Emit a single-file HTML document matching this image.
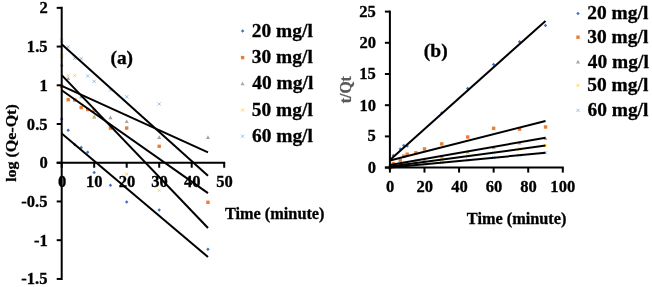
<!DOCTYPE html>
<html><head><meta charset="utf-8"><style>
html,body{margin:0;padding:0;background:#fff;width:652px;height:287px;overflow:hidden}
svg{display:block}
</style></head><body>
<svg width="652" height="287" viewBox="0 0 652 287">
<rect width="652" height="287" fill="#fff"/>
<path d="M61.70 117.25L63.45 119.00L61.70 120.75L59.95 119.00Z" fill="#4472C4"/>
<path d="M68.20 128.55L69.95 130.30L68.20 132.05L66.45 130.30Z" fill="#4472C4"/>
<path d="M74.70 142.65L76.45 144.40L74.70 146.15L72.95 144.40Z" fill="#4472C4"/>
<path d="M81.20 145.65L82.95 147.40L81.20 149.15L79.45 147.40Z" fill="#4472C4"/>
<path d="M87.70 150.55L89.45 152.30L87.70 154.05L85.95 152.30Z" fill="#4472C4"/>
<path d="M94.20 170.85L95.95 172.60L94.20 174.35L92.45 172.60Z" fill="#4472C4"/>
<path d="M110.45 183.55L112.20 185.30L110.45 187.05L108.70 185.30Z" fill="#4472C4"/>
<path d="M126.70 200.25L128.45 202.00L126.70 203.75L124.95 202.00Z" fill="#4472C4"/>
<path d="M159.20 208.25L160.95 210.00L159.20 211.75L157.45 210.00Z" fill="#4472C4"/>
<path d="M207.95 247.45L209.70 249.20L207.95 250.95L206.20 249.20Z" fill="#4472C4"/>
<rect x="60.00" y="84.50" width="3.40" height="3.40" fill="#ED7D31"/>
<rect x="66.50" y="98.00" width="3.40" height="3.40" fill="#ED7D31"/>
<rect x="73.00" y="98.30" width="3.40" height="3.40" fill="#ED7D31"/>
<rect x="79.50" y="105.80" width="3.40" height="3.40" fill="#ED7D31"/>
<rect x="86.00" y="107.80" width="3.40" height="3.40" fill="#ED7D31"/>
<rect x="92.50" y="108.60" width="3.40" height="3.40" fill="#ED7D31"/>
<rect x="108.75" y="126.40" width="3.40" height="3.40" fill="#ED7D31"/>
<rect x="125.00" y="126.40" width="3.40" height="3.40" fill="#ED7D31"/>
<rect x="157.50" y="144.60" width="3.40" height="3.40" fill="#ED7D31"/>
<rect x="206.25" y="200.60" width="3.40" height="3.40" fill="#ED7D31"/>
<path d="M61.70 62.70L63.70 66.30L59.70 66.30Z" fill="#A5A5A5"/>
<path d="M68.20 76.40L70.20 80.00L66.20 80.00Z" fill="#A5A5A5"/>
<path d="M81.20 94.70L83.20 98.30L79.20 98.30Z" fill="#A5A5A5"/>
<path d="M94.20 114.80L96.20 118.40L92.20 118.40Z" fill="#A5A5A5"/>
<path d="M110.45 115.60L112.45 119.20L108.45 119.20Z" fill="#A5A5A5"/>
<path d="M126.70 119.50L128.70 123.10L124.70 123.10Z" fill="#A5A5A5"/>
<path d="M159.20 135.30L161.20 138.90L157.20 138.90Z" fill="#A5A5A5"/>
<path d="M207.95 135.30L209.95 138.90L205.95 138.90Z" fill="#A5A5A5"/>
<path d="M60.10 54.40L63.30 57.60M63.30 54.40L60.10 57.60" stroke="#FFC000" stroke-width="0.8" fill="none" opacity="0.75"/>
<path d="M66.60 73.90L69.80 77.10M69.80 73.90L66.60 77.10" stroke="#FFC000" stroke-width="0.8" fill="none" opacity="0.75"/>
<path d="M73.10 73.90L76.30 77.10M76.30 73.90L73.10 77.10" stroke="#FFC000" stroke-width="0.8" fill="none" opacity="0.75"/>
<path d="M92.60 115.70L95.80 118.90M95.80 115.70L92.60 118.90" stroke="#FFC000" stroke-width="0.8" fill="none" opacity="0.75"/>
<path d="M125.10 172.50L128.30 175.70M128.30 172.50L125.10 175.70" stroke="#FFC000" stroke-width="0.8" fill="none" opacity="0.75"/>
<path d="M157.60 188.90L160.80 192.10M160.80 188.90L157.60 192.10" stroke="#FFC000" stroke-width="0.8" fill="none" opacity="0.75"/>
<path d="M60.10 38.70L63.30 41.90M63.30 38.70L60.10 41.90" stroke="#5B9BD5" stroke-width="0.8" fill="none" opacity="0.75"/>
<path d="M66.60 45.20L69.80 48.40M69.80 45.20L66.60 48.40" stroke="#5B9BD5" stroke-width="0.8" fill="none" opacity="0.75"/>
<path d="M73.10 56.70L76.30 59.90M76.30 56.70L73.10 59.90" stroke="#5B9BD5" stroke-width="0.8" fill="none" opacity="0.75"/>
<path d="M79.60 57.00L82.80 60.20M82.80 57.00L79.60 60.20" stroke="#5B9BD5" stroke-width="0.8" fill="none" opacity="0.75"/>
<path d="M86.10 74.40L89.30 77.60M89.30 74.40L86.10 77.60" stroke="#5B9BD5" stroke-width="0.8" fill="none" opacity="0.75"/>
<path d="M92.60 79.80L95.80 83.00M95.80 79.80L92.60 83.00" stroke="#5B9BD5" stroke-width="0.8" fill="none" opacity="0.75"/>
<path d="M108.85 88.30L112.05 91.50M112.05 88.30L108.85 91.50" stroke="#5B9BD5" stroke-width="0.8" fill="none" opacity="0.75"/>
<path d="M125.10 95.20L128.30 98.40M128.30 95.20L125.10 98.40" stroke="#5B9BD5" stroke-width="0.8" fill="none" opacity="0.75"/>
<path d="M157.60 102.40L160.80 105.60M160.80 102.40L157.60 105.60" stroke="#5B9BD5" stroke-width="0.8" fill="none" opacity="0.75"/>
<line x1="61.7" y1="44.2" x2="208" y2="175.8" stroke="#000" stroke-width="2.0"/>
<line x1="61.7" y1="75.1" x2="208" y2="228" stroke="#000" stroke-width="2.0"/>
<line x1="61.7" y1="85.8" x2="208" y2="152.4" stroke="#000" stroke-width="2.0"/>
<line x1="61.7" y1="90.2" x2="208" y2="193.1" stroke="#000" stroke-width="2.0"/>
<line x1="61.7" y1="133.4" x2="208" y2="257" stroke="#000" stroke-width="2.0"/>
<line x1="61.7" y1="6.85" x2="61.7" y2="279.93" stroke="#000" stroke-width="2.0"/>
<line x1="56.7" y1="7.85" x2="61.7" y2="7.85" stroke="#000" stroke-width="2.0"/>
<text transform="translate(47.00 13.00) scale(1.0550 1)" x="-7.14" y="0" font-family="Liberation Serif, Times New Roman, serif" font-weight="bold" font-size="15.7" fill="#000" stroke="#000" stroke-width="0.284">2</text>
<line x1="56.7" y1="46.57" x2="61.7" y2="46.57" stroke="#000" stroke-width="2.0"/>
<text transform="translate(47.00 52.00) scale(1.0550 1)" x="-19.08" y="0" font-family="Liberation Serif, Times New Roman, serif" font-weight="bold" font-size="15.7" fill="#000" stroke="#000" stroke-width="0.284">1.5</text>
<line x1="56.7" y1="85.30" x2="61.7" y2="85.30" stroke="#000" stroke-width="2.0"/>
<text transform="translate(47.00 91.00) scale(1.0550 1)" x="-7.06" y="0" font-family="Liberation Serif, Times New Roman, serif" font-weight="bold" font-size="15.7" fill="#000" stroke="#000" stroke-width="0.284">1</text>
<line x1="56.7" y1="124.03" x2="61.7" y2="124.03" stroke="#000" stroke-width="2.0"/>
<text transform="translate(47.00 130.00) scale(1.0550 1)" x="-19.08" y="0" font-family="Liberation Serif, Times New Roman, serif" font-weight="bold" font-size="15.7" fill="#000" stroke="#000" stroke-width="0.284">0.5</text>
<line x1="56.7" y1="162.75" x2="61.7" y2="162.75" stroke="#000" stroke-width="2.0"/>
<text transform="translate(47.00 168.00) scale(1.0550 1)" x="-7.22" y="0" font-family="Liberation Serif, Times New Roman, serif" font-weight="bold" font-size="15.7" fill="#000" stroke="#000" stroke-width="0.284">0</text>
<line x1="56.7" y1="201.47" x2="61.7" y2="201.47" stroke="#000" stroke-width="2.0"/>
<text transform="translate(47.00 207.00) scale(1.0550 1)" x="-24.34" y="0" font-family="Liberation Serif, Times New Roman, serif" font-weight="bold" font-size="15.7" fill="#000" stroke="#000" stroke-width="0.284">-0.5</text>
<line x1="56.7" y1="240.20" x2="61.7" y2="240.20" stroke="#000" stroke-width="2.0"/>
<text transform="translate(47.00 246.00) scale(1.0550 1)" x="-12.32" y="0" font-family="Liberation Serif, Times New Roman, serif" font-weight="bold" font-size="15.7" fill="#000" stroke="#000" stroke-width="0.284">-1</text>
<line x1="56.7" y1="278.93" x2="61.7" y2="278.93" stroke="#000" stroke-width="2.0"/>
<text transform="translate(47.00 284.00) scale(1.0550 1)" x="-24.34" y="0" font-family="Liberation Serif, Times New Roman, serif" font-weight="bold" font-size="15.7" fill="#000" stroke="#000" stroke-width="0.284">-1.5</text>
<line x1="56.7" y1="162.75" x2="225.20" y2="162.75" stroke="#000" stroke-width="2.0"/>
<line x1="61.70" y1="162.75" x2="61.70" y2="167.75" stroke="#000" stroke-width="2.0"/>
<text transform="translate(62.00 187.00) scale(1.0550 1)" x="-3.92" y="0" font-family="Liberation Serif, Times New Roman, serif" font-weight="bold" font-size="15.7" fill="#000" stroke="#000" stroke-width="0.284">0</text>
<line x1="94.20" y1="162.75" x2="94.20" y2="167.75" stroke="#000" stroke-width="2.0"/>
<text transform="translate(94.50 187.00) scale(1.0550 1)" x="-8.16" y="0" font-family="Liberation Serif, Times New Roman, serif" font-weight="bold" font-size="15.7" fill="#000" stroke="#000" stroke-width="0.284">10</text>
<line x1="126.70" y1="162.75" x2="126.70" y2="167.75" stroke="#000" stroke-width="2.0"/>
<text transform="translate(127.00 187.00) scale(1.0550 1)" x="-7.85" y="0" font-family="Liberation Serif, Times New Roman, serif" font-weight="bold" font-size="15.7" fill="#000" stroke="#000" stroke-width="0.284">20</text>
<line x1="159.20" y1="162.75" x2="159.20" y2="167.75" stroke="#000" stroke-width="2.0"/>
<text transform="translate(159.50 187.00) scale(1.0550 1)" x="-7.85" y="0" font-family="Liberation Serif, Times New Roman, serif" font-weight="bold" font-size="15.7" fill="#000" stroke="#000" stroke-width="0.284">30</text>
<line x1="191.70" y1="162.75" x2="191.70" y2="167.75" stroke="#000" stroke-width="2.0"/>
<text transform="translate(192.00 187.00) scale(1.0550 1)" x="-7.65" y="0" font-family="Liberation Serif, Times New Roman, serif" font-weight="bold" font-size="15.7" fill="#000" stroke="#000" stroke-width="0.284">40</text>
<line x1="224.20" y1="162.75" x2="224.20" y2="167.75" stroke="#000" stroke-width="2.0"/>
<text transform="translate(224.50 187.00) scale(1.0550 1)" x="-7.85" y="0" font-family="Liberation Serif, Times New Roman, serif" font-weight="bold" font-size="15.7" fill="#000" stroke="#000" stroke-width="0.284">50</text>
<text transform="translate(111.30 64.00) scale(1.0200 1)" x="-0.85" y="0" font-family="Liberation Serif, Times New Roman, serif" font-weight="bold" font-size="19" fill="#000" stroke="#000" stroke-width="0.294">(a)</text>
<text transform="translate(225.20 219.00) scale(0.9630 1)" x="-0.25" y="0" font-family="Liberation Serif, Times New Roman, serif" font-weight="bold" font-size="16.9" fill="#000" stroke="#000" stroke-width="0.312">Time (minute)</text>
<text transform="translate(15.70 143.20) rotate(-90) scale(1.0450 1)" x="-36.99" y="0" font-family="Liberation Serif, Times New Roman, serif" font-weight="bold" font-size="15.3" fill="#000" stroke="#000" stroke-width="0.287">log (Qe-Qt)</text>
<path d="M242.60 29.25L244.35 31.00L242.60 32.75L240.85 31.00Z" fill="#4472C4"/>
<text transform="translate(252.60 36.70) scale(1.0450 1)" x="-0.74" y="0" font-family="Liberation Serif, Times New Roman, serif" font-weight="bold" font-size="18.6" fill="#000" stroke="#000" stroke-width="0.287">20 mg/l</text>
<rect x="240.90" y="55.90" width="3.40" height="3.40" fill="#ED7D31"/>
<text transform="translate(252.60 63.30) scale(1.0450 1)" x="-0.74" y="0" font-family="Liberation Serif, Times New Roman, serif" font-weight="bold" font-size="18.6" fill="#000" stroke="#000" stroke-width="0.287">30 mg/l</text>
<path d="M242.60 81.70L244.60 85.30L240.60 85.30Z" fill="#A5A5A5"/>
<text transform="translate(252.60 89.40) scale(1.0450 1)" x="-0.28" y="0" font-family="Liberation Serif, Times New Roman, serif" font-weight="bold" font-size="18.6" fill="#000" stroke="#000" stroke-width="0.287">40 mg/l</text>
<path d="M241.00 108.40L244.20 111.60M244.20 108.40L241.00 111.60" stroke="#FFC000" stroke-width="0.8" fill="none" opacity="0.75"/>
<text transform="translate(252.60 115.70) scale(1.0450 1)" x="-0.74" y="0" font-family="Liberation Serif, Times New Roman, serif" font-weight="bold" font-size="18.6" fill="#000" stroke="#000" stroke-width="0.287">50 mg/l</text>
<path d="M241.00 134.60L244.20 137.80M244.20 134.60L241.00 137.80" stroke="#5B9BD5" stroke-width="0.8" fill="none" opacity="0.75"/>
<text transform="translate(252.60 141.90) scale(1.0450 1)" x="-0.65" y="0" font-family="Liberation Serif, Times New Roman, serif" font-weight="bold" font-size="18.6" fill="#000" stroke="#000" stroke-width="0.287">60 mg/l</text>
<path d="M393.36 153.85L395.11 155.60L393.36 157.35L391.61 155.60Z" fill="#4472C4"/>
<path d="M400.27 147.15L402.02 148.90L400.27 150.65L398.52 148.90Z" fill="#4472C4"/>
<path d="M403.73 143.75L405.48 145.50L403.73 147.25L401.98 145.50Z" fill="#4472C4"/>
<path d="M407.19 144.35L408.94 146.10L407.19 147.85L405.44 146.10Z" fill="#4472C4"/>
<path d="M441.77 111.15L443.52 112.90L441.77 114.65L440.02 112.90Z" fill="#4472C4"/>
<path d="M467.70 86.75L469.45 88.50L467.70 90.25L465.95 88.50Z" fill="#4472C4"/>
<path d="M493.64 62.85L495.39 64.60L493.64 66.35L491.89 64.60Z" fill="#4472C4"/>
<path d="M519.58 40.05L521.33 41.80L519.58 43.55L517.83 41.80Z" fill="#4472C4"/>
<path d="M545.51 23.75L547.26 25.50L545.51 27.25L543.76 25.50Z" fill="#4472C4"/>
<rect x="388.20" y="165.70" width="3.40" height="3.40" fill="#ED7D31"/>
<rect x="391.66" y="161.90" width="3.40" height="3.40" fill="#ED7D31"/>
<rect x="398.57" y="158.80" width="3.40" height="3.40" fill="#ED7D31"/>
<rect x="402.03" y="154.50" width="3.40" height="3.40" fill="#ED7D31"/>
<rect x="405.49" y="152.50" width="3.40" height="3.40" fill="#ED7D31"/>
<rect x="414.13" y="151.10" width="3.40" height="3.40" fill="#ED7D31"/>
<rect x="422.78" y="147.20" width="3.40" height="3.40" fill="#ED7D31"/>
<rect x="440.07" y="142.20" width="3.40" height="3.40" fill="#ED7D31"/>
<rect x="466.00" y="135.30" width="3.40" height="3.40" fill="#ED7D31"/>
<rect x="491.94" y="126.60" width="3.40" height="3.40" fill="#ED7D31"/>
<rect x="517.88" y="127.50" width="3.40" height="3.40" fill="#ED7D31"/>
<rect x="543.81" y="125.30" width="3.40" height="3.40" fill="#ED7D31"/>
<path d="M393.36 163.00L395.36 166.60L391.36 166.60Z" fill="#A5A5A5"/>
<path d="M400.27 161.79L402.27 165.39L398.27 165.39Z" fill="#A5A5A5"/>
<path d="M403.73 161.18L405.73 164.78L401.73 164.78Z" fill="#A5A5A5"/>
<path d="M407.19 160.58L409.19 164.18L405.19 164.18Z" fill="#A5A5A5"/>
<path d="M415.83 159.07L417.83 162.67L413.83 162.67Z" fill="#A5A5A5"/>
<path d="M424.48 157.56L426.48 161.16L422.48 161.16Z" fill="#A5A5A5"/>
<path d="M441.77 154.53L443.77 158.13L439.77 158.13Z" fill="#A5A5A5"/>
<path d="M467.70 150.00L469.70 153.60L465.70 153.60Z" fill="#A5A5A5"/>
<path d="M493.64 145.47L495.64 149.07L491.64 149.07Z" fill="#A5A5A5"/>
<path d="M519.58 140.93L521.58 144.53L517.58 144.53Z" fill="#A5A5A5"/>
<path d="M545.51 136.40L547.51 140.00L543.51 140.00Z" fill="#A5A5A5"/>
<path d="M391.76 164.53L394.96 167.73M394.96 164.53L391.76 167.73" stroke="#FFC000" stroke-width="0.8" fill="none" opacity="0.75"/>
<path d="M398.67 163.60L401.87 166.80M401.87 163.60L398.67 166.80" stroke="#FFC000" stroke-width="0.8" fill="none" opacity="0.75"/>
<path d="M402.13 163.13L405.33 166.33M405.33 163.13L402.13 166.33" stroke="#FFC000" stroke-width="0.8" fill="none" opacity="0.75"/>
<path d="M405.59 162.67L408.79 165.87M408.79 162.67L405.59 165.87" stroke="#FFC000" stroke-width="0.8" fill="none" opacity="0.75"/>
<path d="M414.23 161.50L417.44 164.70M417.44 161.50L414.23 164.70" stroke="#FFC000" stroke-width="0.8" fill="none" opacity="0.75"/>
<path d="M422.88 160.33L426.08 163.53M426.08 160.33L422.88 163.53" stroke="#FFC000" stroke-width="0.8" fill="none" opacity="0.75"/>
<path d="M440.17 158.00L443.37 161.20M443.37 158.00L440.17 161.20" stroke="#FFC000" stroke-width="0.8" fill="none" opacity="0.75"/>
<path d="M466.10 154.50L469.31 157.70M469.31 154.50L466.10 157.70" stroke="#FFC000" stroke-width="0.8" fill="none" opacity="0.75"/>
<path d="M492.04 151.00L495.24 154.20M495.24 151.00L492.04 154.20" stroke="#FFC000" stroke-width="0.8" fill="none" opacity="0.75"/>
<path d="M517.98 147.50L521.18 150.70M521.18 147.50L517.98 150.70" stroke="#FFC000" stroke-width="0.8" fill="none" opacity="0.75"/>
<path d="M543.91 144.00L547.11 147.20M547.11 144.00L543.91 147.20" stroke="#FFC000" stroke-width="0.8" fill="none" opacity="0.75"/>
<path d="M388.30 166.00L391.50 169.20M391.50 166.00L388.30 169.20" stroke="#5B9BD5" stroke-width="0.8" fill="none" opacity="0.75"/>
<path d="M391.76 165.48L394.96 168.68M394.96 165.48L391.76 168.68" stroke="#5B9BD5" stroke-width="0.8" fill="none" opacity="0.75"/>
<path d="M398.67 164.83L401.87 168.03M401.87 164.83L398.67 168.03" stroke="#5B9BD5" stroke-width="0.8" fill="none" opacity="0.75"/>
<path d="M402.13 164.50L405.33 167.70M405.33 164.50L402.13 167.70" stroke="#5B9BD5" stroke-width="0.8" fill="none" opacity="0.75"/>
<path d="M405.59 164.18L408.79 167.38M408.79 164.18L405.59 167.38" stroke="#5B9BD5" stroke-width="0.8" fill="none" opacity="0.75"/>
<path d="M414.23 163.37L417.44 166.57M417.44 163.37L414.23 166.57" stroke="#5B9BD5" stroke-width="0.8" fill="none" opacity="0.75"/>
<path d="M422.88 162.56L426.08 165.76M426.08 162.56L422.88 165.76" stroke="#5B9BD5" stroke-width="0.8" fill="none" opacity="0.75"/>
<path d="M440.17 160.93L443.37 164.13M443.37 160.93L440.17 164.13" stroke="#5B9BD5" stroke-width="0.8" fill="none" opacity="0.75"/>
<path d="M466.10 158.50L469.31 161.70M469.31 158.50L466.10 161.70" stroke="#5B9BD5" stroke-width="0.8" fill="none" opacity="0.75"/>
<path d="M492.04 156.07L495.24 159.27M495.24 156.07L492.04 159.27" stroke="#5B9BD5" stroke-width="0.8" fill="none" opacity="0.75"/>
<path d="M517.98 153.63L521.18 156.83M521.18 153.63L517.98 156.83" stroke="#5B9BD5" stroke-width="0.8" fill="none" opacity="0.75"/>
<path d="M543.91 151.20L547.11 154.40M547.11 151.20L543.91 154.40" stroke="#5B9BD5" stroke-width="0.8" fill="none" opacity="0.75"/>
<line x1="389.9" y1="160.0" x2="545.5" y2="20.9" stroke="#000" stroke-width="2.0"/>
<line x1="389.9" y1="160.5" x2="545.5" y2="121.0" stroke="#000" stroke-width="2.0"/>
<line x1="389.9" y1="165.0" x2="545.5" y2="137.8" stroke="#000" stroke-width="2.0"/>
<line x1="389.9" y1="166.6" x2="545.5" y2="145.6" stroke="#000" stroke-width="2.0"/>
<line x1="389.9" y1="167.4" x2="545.5" y2="152.8" stroke="#000" stroke-width="2.0"/>
<line x1="389.9" y1="10.60" x2="389.9" y2="167.6" stroke="#000" stroke-width="2.0"/>
<line x1="384.9" y1="11.60" x2="389.9" y2="11.60" stroke="#000" stroke-width="2.0"/>
<text transform="translate(375.30 17.00) scale(1.0550 1)" x="-15.15" y="0" font-family="Liberation Serif, Times New Roman, serif" font-weight="bold" font-size="15.7" fill="#000" stroke="#000" stroke-width="0.284">25</text>
<line x1="384.9" y1="42.80" x2="389.9" y2="42.80" stroke="#000" stroke-width="2.0"/>
<text transform="translate(375.30 48.00) scale(1.0550 1)" x="-15.07" y="0" font-family="Liberation Serif, Times New Roman, serif" font-weight="bold" font-size="15.7" fill="#000" stroke="#000" stroke-width="0.284">20</text>
<line x1="384.9" y1="74.00" x2="389.9" y2="74.00" stroke="#000" stroke-width="2.0"/>
<text transform="translate(375.30 79.00) scale(1.0550 1)" x="-15.15" y="0" font-family="Liberation Serif, Times New Roman, serif" font-weight="bold" font-size="15.7" fill="#000" stroke="#000" stroke-width="0.284">15</text>
<line x1="384.9" y1="105.20" x2="389.9" y2="105.20" stroke="#000" stroke-width="2.0"/>
<text transform="translate(375.30 111.00) scale(1.0550 1)" x="-15.07" y="0" font-family="Liberation Serif, Times New Roman, serif" font-weight="bold" font-size="15.7" fill="#000" stroke="#000" stroke-width="0.284">10</text>
<line x1="384.9" y1="136.40" x2="389.9" y2="136.40" stroke="#000" stroke-width="2.0"/>
<text transform="translate(375.30 141.00) scale(1.0550 1)" x="-7.30" y="0" font-family="Liberation Serif, Times New Roman, serif" font-weight="bold" font-size="15.7" fill="#000" stroke="#000" stroke-width="0.284">5</text>
<line x1="384.9" y1="167.60" x2="389.9" y2="167.60" stroke="#000" stroke-width="2.0"/>
<text transform="translate(375.30 173.00) scale(1.0550 1)" x="-7.22" y="0" font-family="Liberation Serif, Times New Roman, serif" font-weight="bold" font-size="15.7" fill="#000" stroke="#000" stroke-width="0.284">0</text>
<line x1="384.9" y1="167.6" x2="563.80" y2="167.6" stroke="#000" stroke-width="2.0"/>
<line x1="389.90" y1="167.6" x2="389.90" y2="172.6" stroke="#000" stroke-width="2.0"/>
<text transform="translate(390.20 192.00) scale(1.0550 1)" x="-3.92" y="0" font-family="Liberation Serif, Times New Roman, serif" font-weight="bold" font-size="15.7" fill="#000" stroke="#000" stroke-width="0.284">0</text>
<line x1="424.48" y1="167.6" x2="424.48" y2="172.6" stroke="#000" stroke-width="2.0"/>
<text transform="translate(424.78 192.00) scale(1.0550 1)" x="-7.85" y="0" font-family="Liberation Serif, Times New Roman, serif" font-weight="bold" font-size="15.7" fill="#000" stroke="#000" stroke-width="0.284">20</text>
<line x1="459.06" y1="167.6" x2="459.06" y2="172.6" stroke="#000" stroke-width="2.0"/>
<text transform="translate(459.36 192.00) scale(1.0550 1)" x="-7.65" y="0" font-family="Liberation Serif, Times New Roman, serif" font-weight="bold" font-size="15.7" fill="#000" stroke="#000" stroke-width="0.284">40</text>
<line x1="493.64" y1="167.6" x2="493.64" y2="172.6" stroke="#000" stroke-width="2.0"/>
<text transform="translate(493.94 192.00) scale(1.0550 1)" x="-7.81" y="0" font-family="Liberation Serif, Times New Roman, serif" font-weight="bold" font-size="15.7" fill="#000" stroke="#000" stroke-width="0.284">60</text>
<line x1="528.22" y1="167.6" x2="528.22" y2="172.6" stroke="#000" stroke-width="2.0"/>
<text transform="translate(528.52 192.00) scale(1.0550 1)" x="-7.81" y="0" font-family="Liberation Serif, Times New Roman, serif" font-weight="bold" font-size="15.7" fill="#000" stroke="#000" stroke-width="0.284">80</text>
<line x1="562.80" y1="167.6" x2="562.80" y2="172.6" stroke="#000" stroke-width="2.0"/>
<text transform="translate(563.10 192.00) scale(1.0550 1)" x="-12.09" y="0" font-family="Liberation Serif, Times New Roman, serif" font-weight="bold" font-size="15.7" fill="#000" stroke="#000" stroke-width="0.284">100</text>
<text transform="translate(424.70 57.30) scale(1.0300 1)" x="-0.85" y="0" font-family="Liberation Serif, Times New Roman, serif" font-weight="bold" font-size="19" fill="#000" stroke="#000" stroke-width="0.291">(b)</text>
<text transform="translate(467.10 223.90) scale(0.9630 1)" x="-0.25" y="0" font-family="Liberation Serif, Times New Roman, serif" font-weight="bold" font-size="16.9" fill="#000" stroke="#000" stroke-width="0.312">Time (minute)</text>
<text transform="translate(350.70 89.60) rotate(-90) scale(0.9800 1)" x="-13.88" y="0" font-family="Liberation Serif, Times New Roman, serif" font-weight="bold" font-size="16" fill="#595959" stroke="#595959" stroke-width="0.306">t/Qt</text>
<path d="M578.00 11.65L579.75 13.40L578.00 15.15L576.25 13.40Z" fill="#4472C4"/>
<text transform="translate(588.10 19.20) scale(1.0450 1)" x="-0.74" y="0" font-family="Liberation Serif, Times New Roman, serif" font-weight="bold" font-size="18.6" fill="#000" stroke="#000" stroke-width="0.287">20 mg/l</text>
<rect x="576.30" y="35.50" width="3.40" height="3.40" fill="#ED7D31"/>
<text transform="translate(588.10 43.00) scale(1.0450 1)" x="-0.74" y="0" font-family="Liberation Serif, Times New Roman, serif" font-weight="bold" font-size="18.6" fill="#000" stroke="#000" stroke-width="0.287">30 mg/l</text>
<path d="M578.00 59.80L580.00 63.40L576.00 63.40Z" fill="#A5A5A5"/>
<text transform="translate(588.10 67.60) scale(1.0450 1)" x="-0.28" y="0" font-family="Liberation Serif, Times New Roman, serif" font-weight="bold" font-size="18.6" fill="#000" stroke="#000" stroke-width="0.287">40 mg/l</text>
<path d="M576.40 83.80L579.60 87.00M579.60 83.80L576.40 87.00" stroke="#FFC000" stroke-width="0.8" fill="none" opacity="0.75"/>
<text transform="translate(588.10 91.20) scale(1.0450 1)" x="-0.74" y="0" font-family="Liberation Serif, Times New Roman, serif" font-weight="bold" font-size="18.6" fill="#000" stroke="#000" stroke-width="0.287">50 mg/l</text>
<path d="M576.40 108.80L579.60 112.00M579.60 108.80L576.40 112.00" stroke="#5B9BD5" stroke-width="0.8" fill="none" opacity="0.75"/>
<text transform="translate(588.10 116.20) scale(1.0450 1)" x="-0.65" y="0" font-family="Liberation Serif, Times New Roman, serif" font-weight="bold" font-size="18.6" fill="#000" stroke="#000" stroke-width="0.287">60 mg/l</text>
</svg>
</body></html>
